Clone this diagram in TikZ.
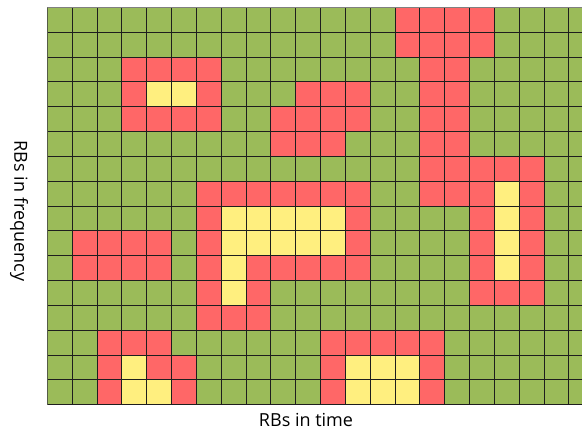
\documentclass[tikz,border=0pt]{standalone}
\usepackage{fontspec}
\setmainfont{Open Sans}
\definecolor{rbgreen}{HTML}{9BBB59}
\definecolor{rbred}{HTML}{FF6767}
\definecolor{rbyellow}{HTML}{FFEF7F}
\definecolor{gridline}{HTML}{1E1E1E}

\begin{document}
\begin{tikzpicture}[x=24.83pt, y=24.83pt]

% Page size
\useasboundingbox (-1.905,-1.024) rectangle (21.534,16.294);

\begin{scope}
\clip (0,0) rectangle (21.534,16.2);

% Free RBs
\fill[rbgreen] (0,0) rectangle (22,16);

% Red RBs (row from top / columns)
\foreach \r/\cols in {0/{14,15,16,17}, 1/{14,15,16,17}, 2/{3,4,5,6,15,16},
    3/{3,6,10,11,12,15,16}, 4/{3,4,5,6,9,10,11,12,15,16}, 5/{9,10,11,15,16},
    6/{15,16,17,18,19}, 7/{6,7,8,9,10,11,12,15,16,17,19}, 8/{6,12,17,19},
    9/{1,2,3,4,6,12,17,19}, 10/{1,2,3,4,6,8,9,10,11,12,17,19},
    11/{6,8,17,18,19}, 12/{6,7,8}, 13/{2,3,4,11,12,13,14,15},
    14/{2,4,5,11,15}, 15/{2,5,11,15}}
  \foreach \c in \cols
    \fill[rbred] (\c,15-\r) rectangle ++(1,1);

% Yellow RBs
\foreach \r/\cols in {3/{4,5}, 7/{18}, 8/{7,8,9,10,11,18}, 9/{7,8,9,10,11,18},
    10/{7,18}, 11/{7}, 14/{3,12,13,14}, 15/{3,4,12,13,14}}
  \foreach \c in \cols
    \fill[rbyellow] (\c,15-\r) rectangle ++(1,1);

% Grid
\draw[gridline, line width=0.7pt, step=1] (0,0) grid (22,16);
\draw[gray, line width=1.2pt] (0,16) -- (22,16);
\end{scope}

% Axis labels
\node[font=\fontsize{18}{20}\selectfont, anchor=base] (timelabel) at (10.42,-0.89) {RBs in time};
\node[font=\fontsize{18}{20}\selectfont, rotate=-90] (freqlabel) at (-1.14,7.8) {RBs in frequency};

\end{tikzpicture}
\end{document}
